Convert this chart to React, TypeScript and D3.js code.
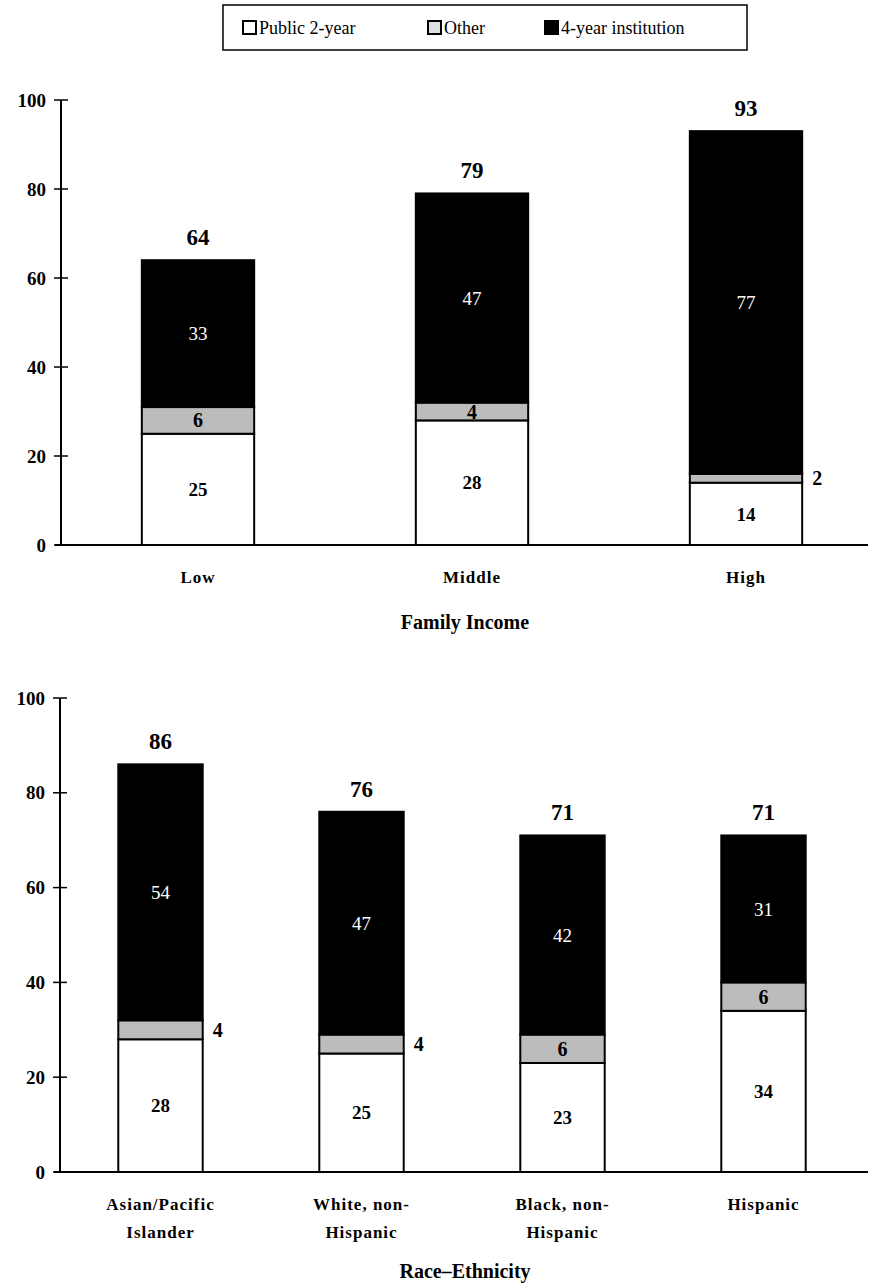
import React from 'react';
import * as d3 from 'd3';

// series order, bottom to top
const seriesNames = ['Public 2-year', 'Other', '4-year institution'];

const incomeCats = ['Low', 'Middle', 'High'];
const incomePublic = [25, 28, 14];
const incomeOther = [6, 4, 2];
const incomeFour = [33, 47, 77];
const incomeTotal = [64, 79, 93];
const incomeOtherOutside = [false, false, true];

const raceCats = ['Asian/Pacific|Islander', 'White, non-|Hispanic', 'Black, non-|Hispanic', 'Hispanic'];
const racePublic = [28, 25, 23, 34];
const raceOther = [4, 4, 6, 6];
const raceFour = [54, 47, 42, 31];
const raceTotal = [86, 76, 71, 71];
const raceOtherOutside = [true, true, false, false];

const yTicks = [0, 20, 40, 60, 80, 100];

const FONT = '"Liberation Serif", "DejaVu Serif", serif';
const OTHER_FILL = '#bcbcbc';

interface PanelProps {
  cats: string[];
  pub: number[];
  other: number[];
  four: number[];
  total: number[];
  otherOutside: boolean[];
  top: number;
  bottom: number;
  axisX: number;
  rangeEnd: number;
  padding: number;
  labelY: number;
  title: string;
  titleY: number;
}

const Panel: React.FC<PanelProps> = (p) => {
  const y = d3.scaleLinear().domain([0, 100]).range([p.bottom, p.top]);
  const x = d3.scaleBand<string>().domain(p.cats).range([p.axisX, p.rangeEnd]).paddingInner(p.padding).paddingOuter(p.padding / 2);
  const bw = x.bandwidth();

  const rows = p.cats.map((c, i) => ({ cat: c, pub: p.pub[i], other: p.other[i], four: p.four[i] }));
  const stacked = d3.stack<any>().keys(['pub', 'other', 'four'])(rows);

  return (
    <g fontFamily={FONT} fontWeight="bold">
      {/* y axis */}
      <line x1={p.axisX} x2={p.axisX} y1={y(100)} y2={y(0)} stroke="#000" strokeWidth={2} />
      {yTicks.map(t => (
        <g key={t}>
          <line x1={p.axisX - 7} x2={p.axisX + 7} y1={y(t)} y2={y(t)} stroke="#000" strokeWidth={1.5} />
          <text x={p.axisX - 15} y={y(t)} dy="0.35em" textAnchor="end" fontSize={19}>{t}</text>
        </g>
      ))}

      {/* bars */}
      {stacked.map((layer, li) => (
        <g key={layer.key}>
          {layer.map((d, i) => (
            <rect
              key={i}
              x={x(p.cats[i])!}
              y={y(d[1])}
              width={bw}
              height={y(d[0]) - y(d[1])}
              fill={li === 0 ? '#fff' : li === 1 ? OTHER_FILL : '#000'}
              stroke="#000"
              strokeWidth={2}
            />
          ))}
        </g>
      ))}

      {/* x axis */}
      <line x1={p.axisX - 6} x2={868} y1={y(0)} y2={y(0)} stroke="#000" strokeWidth={2} />

      {/* segment labels */}
      {p.cats.map((c, i) => {
        const cx = x(c)! + bw / 2;
        const s = stacked;
        const pubMid = y((s[0][i][0] + s[0][i][1]) / 2);
        const otherMid = y((s[1][i][0] + s[1][i][1]) / 2);
        const fourMid = y((s[2][i][0] + s[2][i][1]) / 2);
        return (
          <g key={c} fontSize={19}>
            <text x={cx} y={pubMid} dy="0.35em" textAnchor="middle">{p.pub[i]}</text>
            {p.otherOutside[i] ? (
              <text x={x(c)! + bw + 10} y={otherMid} dy="0.35em" textAnchor="start" fontSize={20}>{p.other[i]}</text>
            ) : (
              <text x={cx} y={otherMid} dy="0.35em" textAnchor="middle" fontSize={20}>{p.other[i]}</text>
            )}
            <text x={cx} y={fourMid} dy="0.35em" textAnchor="middle" fill="#fff" fontWeight="normal">{p.four[i]}</text>
            <text x={cx} y={y(s[2][i][1]) - 15} textAnchor="middle" fontSize={23}>{p.total[i]}</text>
            {c.split('|').map((line, li) => (
              <text key={li} x={cx} y={p.labelY + li * 28} textAnchor="middle" fontSize={17} letterSpacing="1">{line}</text>
            ))}
          </g>
        );
      })}

      <text x={465} y={p.titleY} textAnchor="middle" fontSize={20}>{p.title}</text>
    </g>
  );
};

const App: React.FC = () => {
  const legendX = [243, 428, 545];
  const legendFill = ['#fff', '#e0e0e0', '#000'];
  return (
    <svg width={870} height={1287} style={{ position: 'absolute', left: 0, top: 0, background: '#fff' }}>
      <rect x={0} y={0} width={870} height={1287} fill="#fff" />
      {/* legend */}
      <g fontFamily={FONT} fontSize={18}>
        <rect x={223} y={5} width={524} height={45} fill="#fff" stroke="#000" strokeWidth={1.5} />
        {seriesNames.map((n, i) => (
          <g key={n}>
            <rect x={legendX[i]} y={21} width={13} height={13} fill={legendFill[i]} stroke="#000" strokeWidth={2} />
            <text x={legendX[i] + 16} y={34}>{n}</text>
          </g>
        ))}
      </g>

      <Panel
        cats={incomeCats}
        pub={incomePublic}
        other={incomeOther}
        four={incomeFour}
        total={incomeTotal}
        otherOutside={incomeOtherOutside}
        top={100}
        bottom={545}
        axisX={61}
        rangeEnd={883}
        padding={0.59}
        labelY={583}
        title="Family Income"
        titleY={629}
      />
      <Panel
        cats={raceCats}
        pub={racePublic}
        other={raceOther}
        four={raceFour}
        total={raceTotal}
        otherOutside={raceOtherOutside}
        top={698}
        bottom={1172}
        axisX={60}
        rangeEnd={864}
        padding={0.58}
        labelY={1210}
        title="Race–Ethnicity"
        titleY={1278}
      />
    </svg>
  );
};

export default App;
